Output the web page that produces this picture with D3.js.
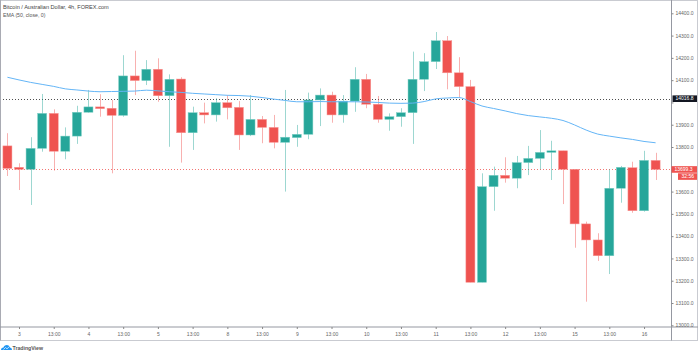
<!DOCTYPE html>
<html>
<head>
<meta charset="utf-8">
<script src="https://cdn.jsdelivr.net/npm/d3@7"></script>
<style>
html,body{margin:0;padding:0;background:#fff;}
svg{display:block;font-family:"Liberation Sans",Arial,sans-serif;}
</style>
</head>
<body>
<svg id="chart" width="698" height="358"></svg>
<script>
// ---- data (bar -1 .. 55, 4h candles) ----
const openP = [13805,13709,13700,13794,13951,13781,13849,13956,13980,13974,13942,14119,14098,14149,14030,14105,13864,13954,13944,13999,13978,13854,13924,13888,13821,13842,13857,14011,14033,13944,14006,14104,13992,13924,13936,13954,14104,14183,14277,14133,14071,13193,13622,13673,13660,13730,13749,13776,13783,13700,13455,13383,13312,13615,13707,13514,13740];
const highP = [13862,13727,13844,14038,13969,13888,13985,14056,14037,14011,14212,14232,14190,14198,14126,14113,13981,13999,14019,14033,14006,14033,13939,13944,14056,13899,14044,14063,14048,14033,14158,14128,14029,13951,13974,14228,14221,14316,14298,14203,14101,13682,13712,13754,13760,13805,13876,13828,13783,13700,13465,13413,13700,13715,13734,13783,13774];
const lowP  = [13670,13607,13540,13779,13694,13745,13814,13954,13936,13682,13936,14033,14078,14003,13801,13730,13787,13906,13914,13924,13787,13849,13817,13794,13600,13801,13835,13894,13909,13909,13958,13974,13909,13873,13891,13814,14051,14150,14059,14023,13193,13193,13514,13640,13615,13674,13700,13652,13544,13348,13106,13289,13230,13550,13505,13510,13652];
const closeP= [13704,13700,13794,13951,13781,13849,13956,13980,13972,13942,14119,14098,14149,14030,14104,13864,13954,13944,13999,13976,13854,13924,13888,13821,13844,13857,14011,14033,13944,14006,14104,13992,13924,13936,13954,14104,14183,14277,14133,14071,13193,13622,13673,13660,13730,13749,13776,13783,13700,13455,13383,13312,13615,13709,13514,13740,13699.3];
const emaP  = [14113,14101,14090,14081,14072,14061,14056,14051,14048,14049,14050,14051,14055,14052,14048,14045,14041,14038,14035,14032,14031,14028,14022,14015,14009,14003,14003,14004,14003,14003,14003,14002,14000,13997,13996,13997,14004,14016,14020,14022,14004,13984,13973,13962,13950,13941,13935,13929,13919,13899,13876,13858,13849,13841,13834,13825,13819];
const firstBar = -1;
const timeLabels = ["3","13:00","4","13:00","5","13:00","8","13:00","9","13:00","10","13:00","11","13:00","12","13:00","15","13:00","16"];
const timeTickBars = [0,3,6,9,12,15,18,21,24,27,30,33,36,39,42,45,48,51,54];
const priceTicks = [13000,13100,13200,13300,13400,13500,13600,13700,13800,13900,14000,14100,14200,14300,14400];
const linePrice = 14016.8;
const lastPrice = 13699.3;
const countdown = "32:56";
const title = "Bitcoin / Australian Dollar, 4h, FOREX.com";
const emaTitle = "EMA (50, close, 0)";

// ---- layout ----
const W = 698, H = 358;
const plotR = 671, plotB = 326.5, axisB = 340.5;
const up = "#26a69a", down = "#ef5350";

const bars = openP.map((o,i)=>({i:i+firstBar,o,h:highP[i],l:lowP[i],c:closeP[i],e:emaP[i]}));

const x = d3.scaleLinear().domain([-1.642, 56.33]).range([0, plotR]);
const y = d3.scaleLinear().domain([13000, 14400]).range([325.3, 13.3]);

const svg = d3.select("#chart");
svg.append("rect").attr("width",W).attr("height",H).attr("fill","#fff");

const defs = svg.append("defs");
defs.append("clipPath").attr("id","plot").append("rect")
  .attr("x",1).attr("y",1).attr("width",plotR-1).attr("height",plotB-1);

const plot = svg.append("g").attr("clip-path","url(#plot)");

// horizontal price lines
plot.append("line").attr("x1",0).attr("x2",plotR)
  .attr("y1",Math.round(y(linePrice))+0.5).attr("y2",Math.round(y(linePrice))+0.5)
  .attr("stroke","#222").attr("stroke-width",0.8).attr("stroke-dasharray","1,2");
plot.append("line").attr("x1",0).attr("x2",plotR)
  .attr("y1",Math.round(y(lastPrice))+0.5).attr("y2",Math.round(y(lastPrice))+0.5)
  .attr("stroke",down).attr("stroke-width",0.8).attr("stroke-dasharray","1,2");

// candles
const bw = (x(1)-x(0))*0.78;
const cg = plot.append("g");
cg.selectAll("line.wick").data(bars).join("line").attr("class","wick")
  .attr("x1",d=>Math.round(x(d.i))+0.5).attr("x2",d=>Math.round(x(d.i))+0.5)
  .attr("y1",d=>y(d.h)).attr("y2",d=>y(d.l))
  .attr("stroke",d=>d.c>=d.o?up:down).attr("stroke-opacity",0.45).attr("stroke-width",1);
cg.selectAll("rect.body").data(bars).join("rect").attr("class","body")
  .attr("x",d=>x(d.i)-bw/2).attr("width",bw)
  .attr("y",d=>y(Math.max(d.o,d.c)))
  .attr("height",d=>Math.max(1,Math.abs(y(d.o)-y(d.c))))
  .attr("fill",d=>d.c>=d.o?up:down)
  .attr("stroke",d=>d.c>=d.o?"#7fd0c6":"#f79a98").attr("stroke-width",0.5);

// EMA
plot.append("path").datum(bars)
  .attr("d",d3.line().x(d=>x(d.i)).y(d=>y(d.e)).curve(d3.curveMonotoneX))
  .attr("fill","none").attr("stroke","#64b5f6").attr("stroke-width",1);

// frame
svg.append("rect").attr("x",0.5).attr("y",0.5).attr("width",W-1).attr("height",axisB-0.5)
  .attr("fill","none").attr("stroke","#c9cbd1").attr("stroke-width",1);
svg.append("line").attr("x1",0.5).attr("x2",0.5).attr("y1",0).attr("y2",axisB)
  .attr("stroke","#a9abb3");
svg.append("line").attr("x1",plotR+0.5).attr("x2",plotR+0.5).attr("y1",0).attr("y2",axisB)
  .attr("stroke","#9598a1");
svg.append("line").attr("x1",0).attr("x2",W).attr("y1",plotB+0.5).attr("y2",plotB+0.5)
  .attr("stroke","#9598a1");

// right price axis (the 14000.0 label sits under the line tag, as in the source)
const yAxis = d3.axisRight(y).tickValues(priceTicks)
  .tickFormat(d=>Math.abs(y(d)-y(linePrice))<5 ? "" : d3.format(".1f")(d))
  .tickSize(2).tickPadding(2);
const ya = svg.append("g").attr("transform",`translate(${plotR+0.5},0)`).call(yAxis);
ya.select(".domain").remove();
ya.selectAll("line").attr("stroke","#888");
ya.selectAll("text").attr("fill","#666").attr("font-size",5).attr("font-family","Liberation Sans, Arial, sans-serif");

// bottom time axis
const xAxis = d3.axisBottom(x).tickValues(timeTickBars).tickFormat((d,k)=>timeLabels[k]).tickSize(2).tickPadding(3);
const xa = svg.append("g").attr("transform",`translate(0,${plotB+0.5})`).call(xAxis);
xa.select(".domain").remove();
xa.selectAll("line").attr("stroke","#888");
xa.selectAll("text").attr("fill","#666").attr("font-size",5).attr("font-family","Liberation Sans, Arial, sans-serif");

// price labels
function tag(price, txt, bg, x0){
  const yy = y(price);
  svg.append("rect").attr("x",x0).attr("y",yy-3.3).attr("width",W-1-x0).attr("height",6.6).attr("fill",bg);
  svg.append("text").attr("x",x0+3).attr("y",yy+1.8).attr("fill","#fff")
    .attr("font-size",5).text(txt);
}
tag(linePrice, d3.format(".1f")(linePrice), "#131722", plotR+1.5);
tag(lastPrice, d3.format(".1f")(lastPrice), down, plotR+0.5);
const ly = y(lastPrice)+3.8;
svg.append("rect").attr("x",678).attr("y",ly).attr("width",19).attr("height",6.6).attr("fill",down);
svg.append("text").attr("x",681.5).attr("y",ly+5).attr("fill","#fff").attr("font-size",5).text(countdown);

// titles
svg.append("text").attr("x",3).attr("y",8.5).attr("fill","#444").attr("font-size",5.6).text(title);
svg.append("text").attr("x",3).attr("y",16.5).attr("fill","#555").attr("font-size",5.2).text(emaTitle);

// TradingView logo
const logo = svg.append("g").attr("transform","translate(1,344)");
logo.append("path").attr("d","M0,6 Q0,3.5 2.5,3.5 Q3,1 6,1 Q8.5,1 9,3.5 Q11,3.7 11,6 Z").attr("fill","#2196f3");
logo.append("path").attr("d","M2.5,5.5 L4.5,3.5 L6,4.8 L8.5,2.5").attr("fill","none").attr("stroke","#fff").attr("stroke-width",0.7);
svg.append("text").attr("x",12.5).attr("y",350).attr("fill","#555").attr("font-size",5.2).attr("font-weight","bold").text("TradingView");
</script>
</body>
</html>
